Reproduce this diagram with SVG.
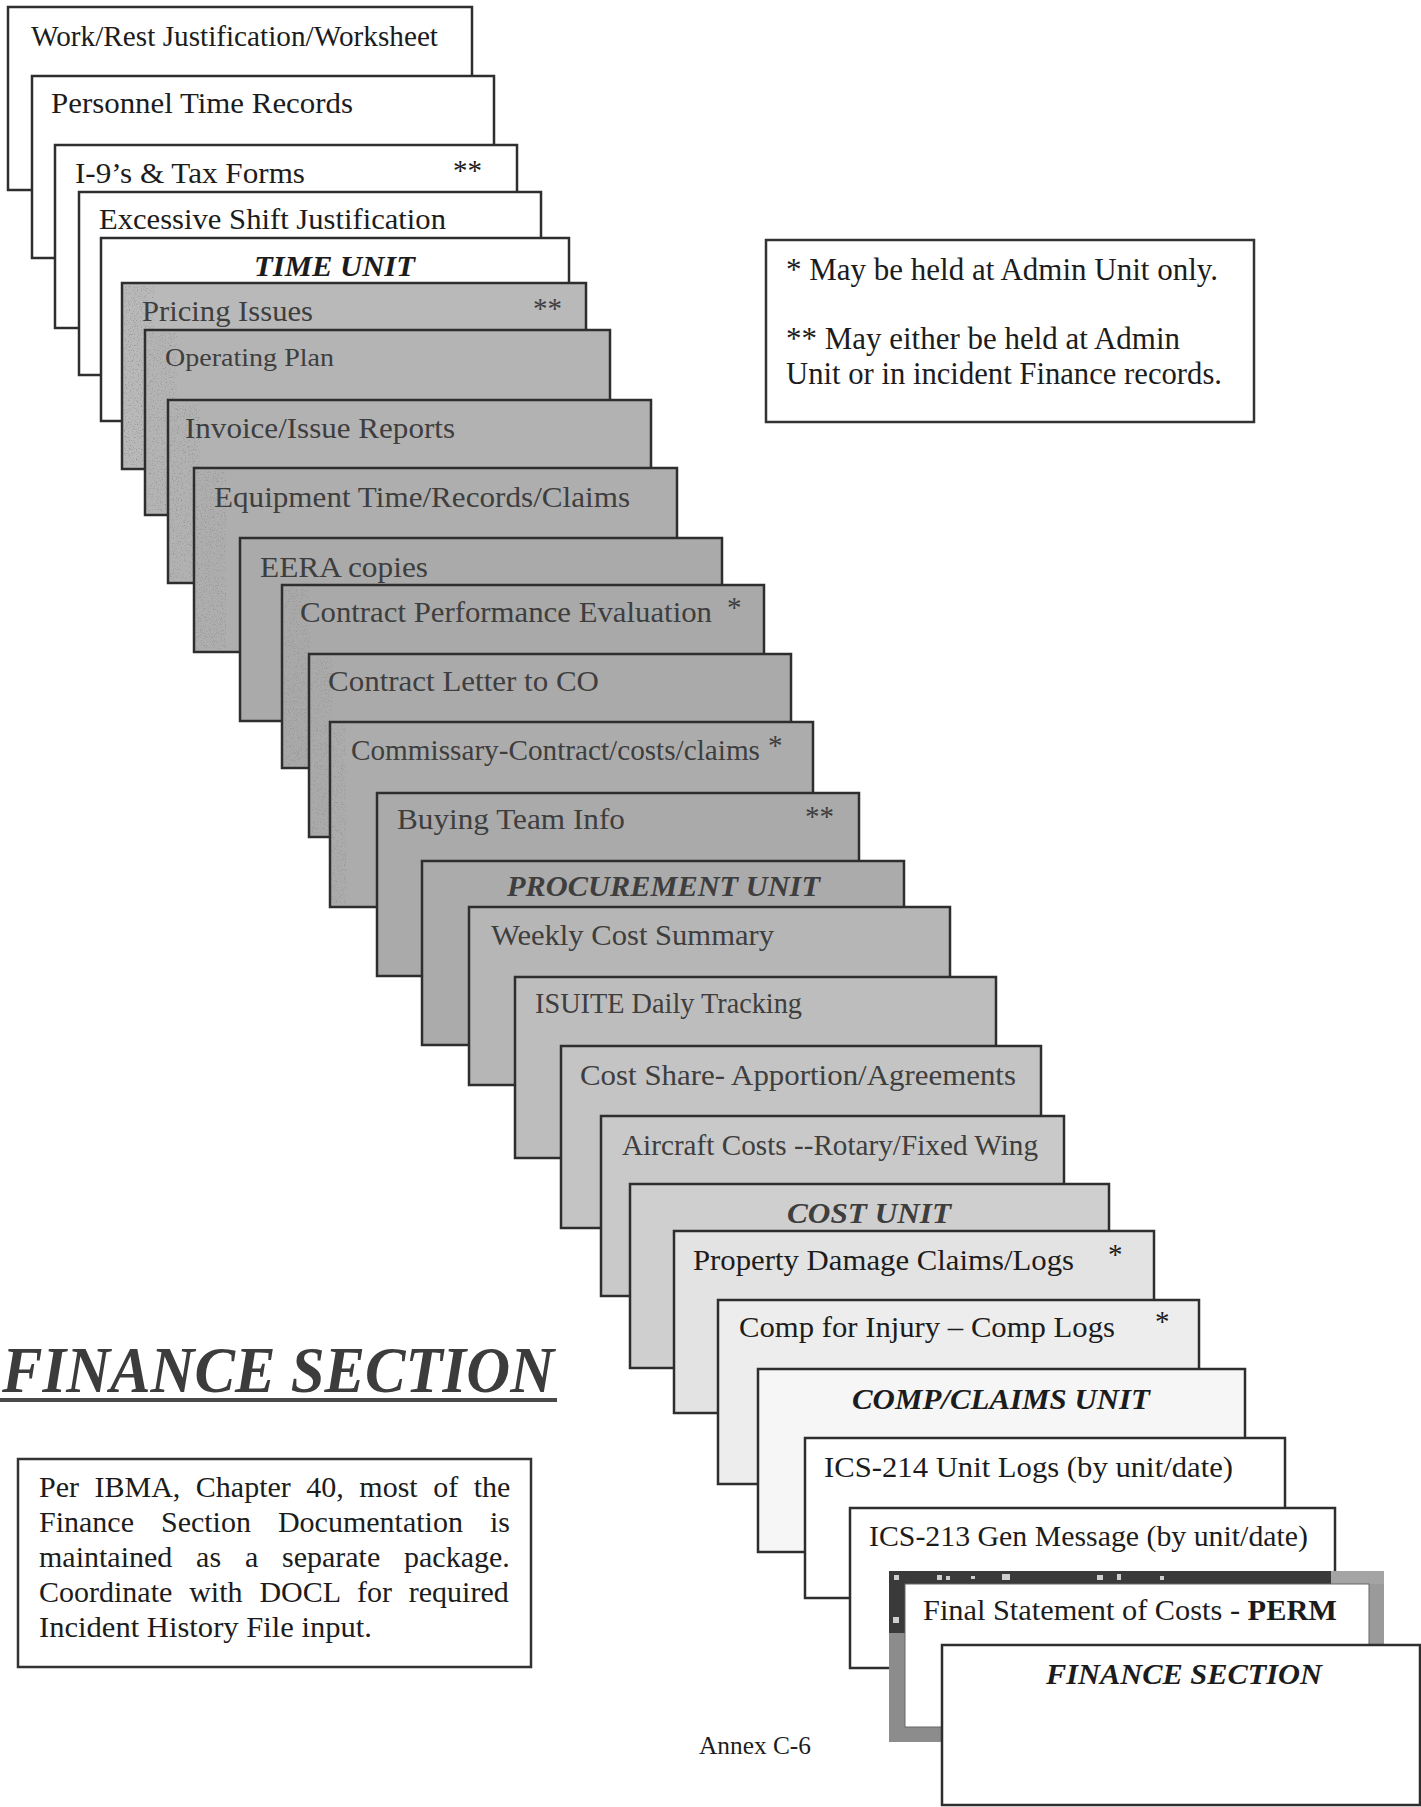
<svg xmlns="http://www.w3.org/2000/svg" width="1421" height="1807" viewBox="0 0 1421 1807">
<style>
.card{stroke:#2e2e2e;stroke-width:2.5}
.lbl{font-family:"Liberation Serif","Times New Roman",serif;font-size:29px;fill:#1c1c1c}
.gl{fill:#3e3e3e}
.unit{font-weight:bold;font-style:italic}
.body{font-family:"Liberation Serif","Times New Roman",serif;font-size:30px;fill:#1c1c1c}
.box{fill:#fff;stroke:#333;stroke-width:2.5}
.spk{filter:url(#speckle)}
</style>
<defs>
<filter id="speckle" x="0" y="0" width="100%" height="100%" filterUnits="objectBoundingBox">
<feTurbulence type="fractalNoise" baseFrequency="0.75" numOctaves="2" seed="7"/>
<feColorMatrix type="matrix" values="0 0 0 0 0.27  0 0 0 0 0.27  0 0 0 0 0.27  3.2 0 0 0 -1.75"/>
</filter>
</defs>
<rect x="0" y="0" width="1421" height="1807" fill="#fff"/>

<g id="card-01"><rect class="card" x="8" y="7" width="464" height="183" fill="#fff"/><text class="lbl" x="31" y="46" textLength="407" lengthAdjust="spacingAndGlyphs">Work/Rest Justification/Worksheet</text></g>
<g id="card-02"><rect class="card" x="32" y="76" width="462" height="182" fill="#fff"/><text class="lbl" x="51" y="113" textLength="302" lengthAdjust="spacingAndGlyphs">Personnel Time Records</text></g>
<g id="card-03"><rect class="card" x="55" y="145" width="462" height="183" fill="#fff"/><text class="lbl" x="75" y="183" textLength="230" lengthAdjust="spacingAndGlyphs">I-9’s &amp; Tax Forms</text><text class="lbl" x="453" y="180">**</text></g>
<g id="card-04"><rect class="card" x="79" y="192" width="462" height="183" fill="#fff"/><text class="lbl" x="99" y="229" textLength="347" lengthAdjust="spacingAndGlyphs">Excessive Shift Justification</text></g>
<g id="card-05"><rect class="card" x="101" y="238" width="468" height="183" fill="#fff"/><text class="lbl unit" x="254" y="276" textLength="161" lengthAdjust="spacingAndGlyphs">TIME UNIT</text></g>
<g id="card-06"><rect class="card" x="122" y="283" width="464" height="186" fill="#b9b9b9"/><rect class="spk" x="124" y="286" width="30" height="180"/><text class="lbl gl" x="142" y="321" textLength="171" lengthAdjust="spacingAndGlyphs">Pricing Issues</text><text class="lbl gl" x="533" y="318">**</text></g>
<g id="card-07"><rect class="card" x="145" y="330" width="465" height="185" fill="#b4b4b4"/><rect class="spk" x="147" y="333" width="30" height="179"/><text class="lbl gl" x="165" y="366" style="font-size:26px" textLength="169" lengthAdjust="spacingAndGlyphs">Operating Plan</text></g>
<g id="card-08"><rect class="card" x="168" y="400" width="483" height="183" fill="#b2b2b2"/><rect class="spk" x="170" y="403" width="30" height="177"/><text class="lbl gl" x="185" y="438" textLength="270" lengthAdjust="spacingAndGlyphs">Invoice/Issue Reports</text></g>
<g id="card-09"><rect class="card" x="194" y="468" width="483" height="184" fill="#aeaeae"/><rect class="spk" x="196" y="471" width="30" height="178"/><text class="lbl gl" x="214" y="507" textLength="416" lengthAdjust="spacingAndGlyphs">Equipment Time/Records/Claims</text></g>
<g id="card-10"><rect class="card" x="240" y="538" width="482" height="183" fill="#aaaaaa"/><text class="lbl gl" x="260" y="577" textLength="168" lengthAdjust="spacingAndGlyphs">EERA copies</text></g>
<g id="card-11"><rect class="card" x="282" y="585" width="482" height="183" fill="#a9a9a9"/><rect class="spk" x="284" y="588" width="26" height="177"/><text class="lbl gl" x="300" y="622" textLength="412" lengthAdjust="spacingAndGlyphs">Contract Performance Evaluation</text><text class="lbl gl" x="727" y="617">*</text></g>
<g id="card-12"><rect class="card" x="309" y="654" width="482" height="183" fill="#aaaaaa"/><rect class="spk" x="311" y="657" width="22" height="177"/><text class="lbl gl" x="328" y="691" textLength="271" lengthAdjust="spacingAndGlyphs">Contract Letter to CO</text></g>
<g id="card-13"><rect class="card" x="330" y="722" width="483" height="185" fill="#acacac"/><rect class="spk" x="332" y="725" width="14" height="179"/><text class="lbl gl" x="351" y="760" textLength="409" lengthAdjust="spacingAndGlyphs">Commissary-Contract/costs/claims</text><text class="lbl gl" x="768" y="755">*</text></g>
<g id="card-14"><rect class="card" x="377" y="793" width="482" height="183" fill="#aaaaaa"/><text class="lbl gl" x="397" y="829" textLength="228" lengthAdjust="spacingAndGlyphs">Buying Team Info</text><text class="lbl gl" x="805" y="826">**</text></g>
<g id="card-15"><rect class="card" x="422" y="861" width="482" height="184" fill="#ababab"/><text class="lbl gl unit" x="507" y="896" textLength="313" lengthAdjust="spacingAndGlyphs">PROCUREMENT UNIT</text></g>
<g id="card-16"><rect class="card" x="469" y="907" width="481" height="178" fill="#b6b6b6"/><text class="lbl gl" x="491" y="945" textLength="283" lengthAdjust="spacingAndGlyphs">Weekly Cost Summary</text></g>
<g id="card-17"><rect class="card" x="515" y="977" width="481" height="181" fill="#bdbdbd"/><text class="lbl gl" x="535" y="1013" textLength="267" lengthAdjust="spacingAndGlyphs">ISUITE Daily Tracking</text></g>
<g id="card-18"><rect class="card" x="561" y="1046" width="480" height="182" fill="#c4c4c4"/><text class="lbl gl" x="580" y="1085" textLength="436" lengthAdjust="spacingAndGlyphs">Cost Share- Apportion/Agreements</text></g>
<g id="card-19"><rect class="card" x="601" y="1116" width="463" height="180" fill="#c9c9c9"/><text class="lbl gl" x="622" y="1155" textLength="416" lengthAdjust="spacingAndGlyphs">Aircraft Costs --Rotary/Fixed Wing</text></g>
<g id="card-20"><rect class="card" x="630" y="1184" width="479" height="184" fill="#cfcfcf"/><text class="lbl gl unit" x="787" y="1223" textLength="164" lengthAdjust="spacingAndGlyphs">COST UNIT</text></g>
<g id="card-21"><rect class="card" x="674" y="1231" width="480" height="182" fill="#e3e3e3"/><text class="lbl" x="693" y="1270" textLength="381" lengthAdjust="spacingAndGlyphs">Property Damage Claims/Logs</text><text class="lbl" x="1108" y="1264">*</text></g>
<g id="card-22"><rect class="card" x="718" y="1300" width="481" height="184" fill="#ededed"/><text class="lbl" x="739" y="1337" textLength="376" lengthAdjust="spacingAndGlyphs">Comp for Injury – Comp Logs</text><text class="lbl" x="1155" y="1331">*</text></g>
<g id="card-23"><rect class="card" x="758" y="1369" width="487" height="183" fill="#f6f6f6"/><text class="lbl unit" x="852" y="1409" textLength="298" lengthAdjust="spacingAndGlyphs">COMP/CLAIMS UNIT</text></g>
<g id="card-24"><rect class="card" x="805" y="1438" width="480" height="160" fill="#fff"/><text class="lbl" x="824" y="1477" textLength="409" lengthAdjust="spacingAndGlyphs">ICS-214 Unit Logs (by unit/date)</text></g>
<g id="card-25"><rect class="card" x="850" y="1508" width="485" height="160" fill="#fff"/><text class="lbl" x="869" y="1546" textLength="439" lengthAdjust="spacingAndGlyphs">ICS-213 Gen Message (by unit/date)</text></g>
<g id="card-26">
<rect x="889" y="1571" width="495" height="171" fill="#8c8c8c"/>
<rect x="889" y="1571" width="442" height="13" fill="#3a3a3a"/>
<rect x="889" y="1571" width="16" height="62" fill="#3a3a3a"/>
<rect x="1331" y="1571" width="53" height="13" fill="#a4a4a4"/>
<rect x="1369" y="1584" width="15" height="70" fill="#9a9a9a"/>
<rect x="905" y="1584" width="464" height="143" fill="#fff" stroke="#666" stroke-width="1"/>
<g fill="#cfcfcf"><rect x="894" y="1575" width="5" height="5"/><rect x="937" y="1575" width="5" height="5"/><rect x="946" y="1576" width="4" height="4"/><rect x="971" y="1576" width="4" height="3"/><rect x="1002" y="1574" width="8" height="6"/><rect x="1097" y="1575" width="6" height="5"/><rect x="1117" y="1574" width="4" height="6"/><rect x="1160" y="1576" width="4" height="4"/><rect x="893" y="1617" width="6" height="6"/></g>
<text class="lbl" x="923" y="1620" textLength="414" lengthAdjust="spacingAndGlyphs">Final Statement of Costs - <tspan font-weight="bold">PERM</tspan></text>
</g>
<g id="card-27"><rect class="card" x="942" y="1645" width="478" height="160" fill="#fff"/><text class="lbl unit" x="1046" y="1684" textLength="276" lengthAdjust="spacingAndGlyphs">FINANCE SECTION</text></g>

<g id="notes">
<rect class="box" x="766" y="240" width="488" height="182"/>
<text class="body" x="786" y="280" style="font-size:31px" textLength="432" lengthAdjust="spacingAndGlyphs">* May be held at Admin Unit only.</text>
<text class="body" x="786" y="349" style="font-size:31px" textLength="394" lengthAdjust="spacingAndGlyphs">** May either be held at Admin</text>
<text class="body" x="786" y="384" style="font-size:31px" textLength="436" lengthAdjust="spacingAndGlyphs">Unit or in incident Finance records.</text>
</g>

<g id="title">
<text x="2" y="1392" font-family="Liberation Serif, Times New Roman, serif" font-size="66" font-weight="bold" font-style="italic" fill="#3c3c3c" textLength="552" lengthAdjust="spacingAndGlyphs">FINANCE SECTION</text>
<rect x="0" y="1398" width="557" height="4" fill="#4a4a4a"/>
</g>

<g id="ibma-note">
<rect class="box" x="18" y="1459" width="513" height="208"/>
<text class="body" x="39" y="1497" word-spacing="8">Per IBMA, Chapter 40, most of the</text>
<text class="body" x="39" y="1532" word-spacing="19.5">Finance Section Documentation is</text>
<text class="body" x="39" y="1567" word-spacing="16.3">maintained as a separate package.</text>
<text class="body" x="39" y="1602" word-spacing="9.4">Coordinate with DOCL for required</text>
<text class="body" x="39" y="1637" textLength="333" lengthAdjust="spacingAndGlyphs">Incident History File input.</text>
</g>

<g id="footer"><text class="body" x="699" y="1754" style="font-size:25px" textLength="112" lengthAdjust="spacingAndGlyphs">Annex C-6</text></g>
</svg>
